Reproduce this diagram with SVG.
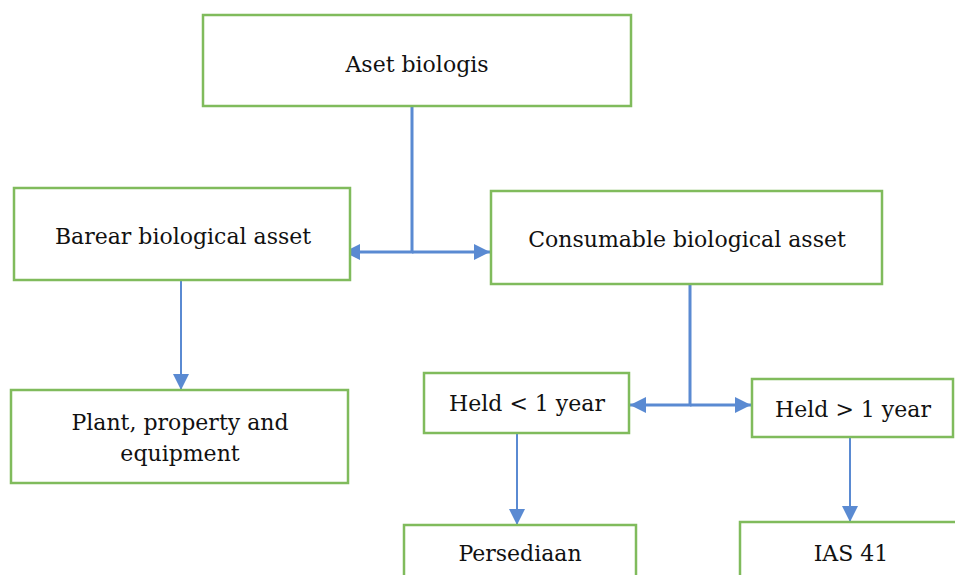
<svg xmlns="http://www.w3.org/2000/svg" width="955" height="575" viewBox="0 0 955 575">
<style>
.box{fill:#fff;stroke:#80bb5c;stroke-width:2.5}
.t{font-family:"DejaVu Serif","Liberation Serif",serif;font-size:22px;fill:#111;text-anchor:middle}
.c{fill:none;stroke:#5a8ad2;stroke-width:3}
.c2{fill:none;stroke:#5a8ad2;stroke-width:2}
</style>
<defs>
<marker id="ah" markerUnits="userSpaceOnUse" markerWidth="16" markerHeight="17" viewBox="0 0 16 17" refX="16" refY="8.5" orient="auto">
<polygon points="0,0.5 16,8.5 0,16.5" fill="#5a8ad2"/>
</marker>
</defs>
<g id="connectors">
<polyline class="c" points="412,106 412,252 344,252" marker-end="url(#ah)"/>
<polyline class="c" points="412,252 490,252" marker-end="url(#ah)"/>
<line class="c2" x1="181" y1="280" x2="181" y2="390" marker-end="url(#ah)"/>
<polyline class="c" points="690,284 690,405 630,405" marker-end="url(#ah)"/>
<polyline class="c" points="690,405 751,405" marker-end="url(#ah)"/>
<line class="c2" x1="517" y1="433" x2="517" y2="525" marker-end="url(#ah)"/>
<line class="c2" x1="850" y1="432" x2="850" y2="522" marker-end="url(#ah)"/>
</g>
<g id="aset-biologis"><rect class="box" x="203" y="15" width="428" height="91"/><text class="t" x="417" y="72">Aset biologis</text></g>
<g id="barear"><rect class="box" x="14" y="188" width="336" height="92"/><text class="t" x="183" y="244">Barear biological asset</text></g>
<g id="consumable"><rect class="box" x="491" y="191" width="391" height="93"/><text class="t" x="687" y="247">Consumable biological asset</text></g>
<g id="plant"><rect class="box" x="11" y="390" width="337" height="93"/><text class="t" x="180" y="430">Plant, property and</text><text class="t" x="180" y="461">equipment</text></g>
<g id="held-less"><rect class="box" x="424" y="373" width="205" height="60"/><text class="t" x="527" y="411">Held &lt; 1 year</text></g>
<g id="held-more"><rect class="box" x="752" y="379" width="201" height="58"/><text class="t" x="853" y="417">Held &gt; 1 year</text></g>
<g id="persediaan"><rect class="box" x="404" y="525" width="232" height="70"/><text class="t" x="520" y="561">Persediaan</text></g>
<g id="ias41"><rect class="box" x="740" y="522" width="230" height="70"/><text class="t" x="851" y="561">IAS 41</text></g>
</svg>
